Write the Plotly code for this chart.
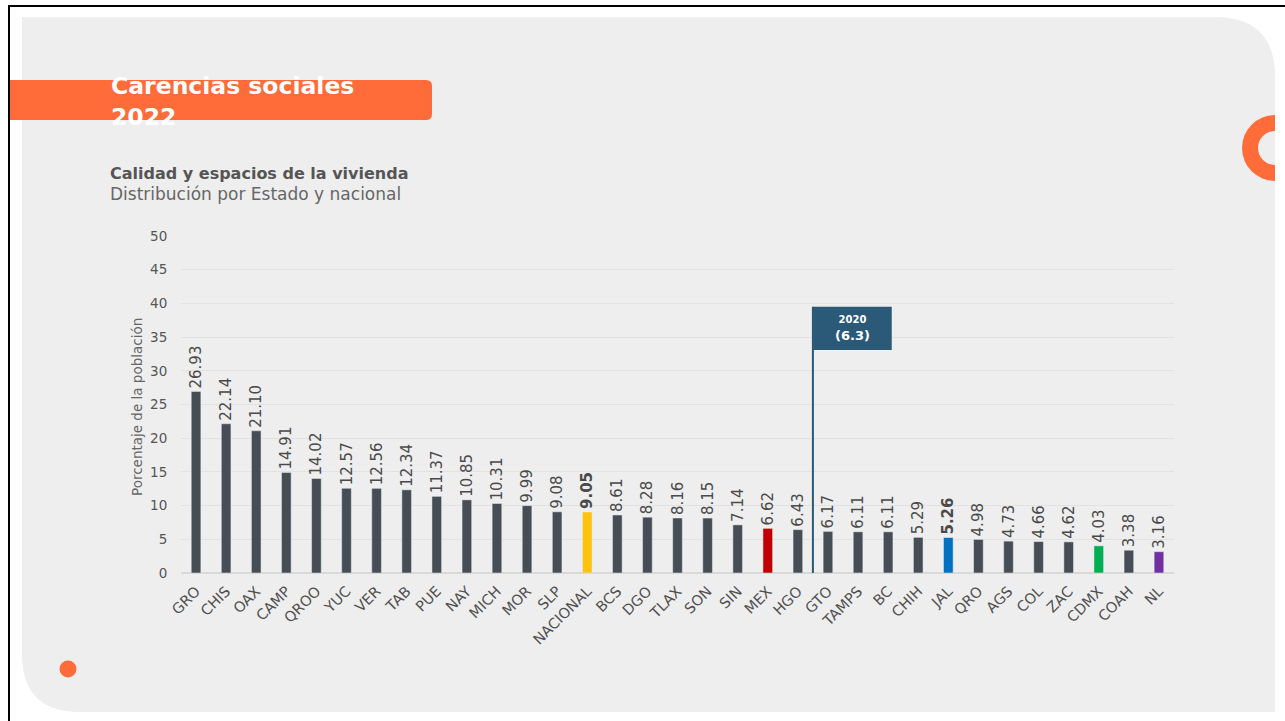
import plotly.graph_objects as go

# Data
estados = ["GRO", "CHIS", "OAX", "CAMP", "QROO", "YUC", "VER", "TAB", "PUE", "NAY",
           "MICH", "MOR", "SLP", "NACIONAL", "BCS", "DGO", "TLAX", "SON", "SIN", "MEX",
           "HGO", "GTO", "TAMPS", "BC", "CHIH", "JAL", "QRO", "AGS", "COL", "ZAC",
           "CDMX", "COAH", "NL"]
porcentaje = [26.93, 22.14, 21.10, 14.91, 14.02, 12.57, 12.56, 12.34, 11.37, 10.85,
              10.31, 9.99, 9.08, 9.05, 8.61, 8.28, 8.16, 8.15, 7.14, 6.62,
              6.43, 6.17, 6.11, 6.11, 5.29, 5.26, 4.98, 4.73, 4.66, 4.62,
              4.03, 3.38, 3.16]
resaltados = {"NACIONAL": "#ffc20e", "MEX": "#c00000", "JAL": "#0070c0",
              "CDMX": "#00b050", "NL": "#7030a0"}
en_negrita = ["NACIONAL", "JAL"]
valor_2020 = 6.3

W, H = 1285, 721
ORANGE = "#ff6b39"
PANEL = "#eeeeee"
NAVY = "#2b5a78"
FONT = "DejaVu Sans"


def px(x):
    return x / W


def py(y):
    return 1 - y / H


def path(points):
    return " ".join(points)


colores = [resaltados.get(e, "#464d54") for e in estados]
textos = [f"<b>{v:.2f}</b>" if e in en_negrita else f"{v:.2f}"
          for e, v in zip(estados, porcentaje)]

fig = go.Figure()
fig.add_trace(go.Bar(
    x=estados, y=porcentaje, marker_color=colores, width=0.32,
    text=textos, textposition="outside", textangle=-90,
    textfont=dict(size=15, color="#4a4a4a", family=FONT),
    constraintext="none", cliponaxis=False, hoverinfo="x+y",
))

# position of the 2020 reference line between the categories it falls between
idx = next(i for i, v in enumerate(porcentaje) if v < valor_2020)
hi, lo = porcentaje[idx - 1], porcentaje[idx]
x_ref = idx - 1 + (hi - valor_2020) / (hi - lo)

shapes = []
# grey card with rounded corners
r1, r2 = 60, 58
shapes.append(dict(
    type="path", xref="paper", yref="paper", layer="below",
    fillcolor=PANEL, line=dict(width=0),
    path=path([
        f"M {px(22)},{py(17)}", f"L {px(1275 - r1)},{py(17)}",
        f"Q {px(1275)},{py(17)} {px(1275)},{py(17 + r1)}",
        f"L {px(1275)},{py(712)}", f"L {px(22 + r2)},{py(712)}",
        f"Q {px(22)},{py(712)} {px(22)},{py(712 - r2)}", "Z"]),
))
# orange banner
shapes.append(dict(
    type="path", xref="paper", yref="paper", layer="below",
    fillcolor=ORANGE, line=dict(width=0),
    path=path([
        f"M {px(10)},{py(80)}", f"L {px(426)},{py(80)}",
        f"Q {px(432)},{py(80)} {px(432)},{py(86)}",
        f"L {px(432)},{py(114)}", f"Q {px(432)},{py(120)} {px(426)},{py(120)}",
        f"L {px(10)},{py(120)}", "Z"]),
))
# orange ring on the right edge (half hidden)
shapes.append(dict(type="circle", xref="paper", yref="paper", layer="below",
                   x0=px(1275 - 33), x1=px(1275 + 33), y0=py(148 + 33), y1=py(148 - 33),
                   fillcolor=ORANGE, line=dict(width=0)))
shapes.append(dict(type="circle", xref="paper", yref="paper", layer="below",
                   x0=px(1275 - 17), x1=px(1275 + 17), y0=py(148 + 17), y1=py(148 - 17),
                   fillcolor=PANEL, line=dict(width=0)))
shapes.append(dict(type="rect", xref="paper", yref="paper", layer="below",
                   x0=px(1275), x1=px(1290), y0=py(80), y1=py(200),
                   fillcolor="white", line=dict(width=0)))
# orange dot bottom-left
shapes.append(dict(type="circle", xref="paper", yref="paper", layer="below",
                   x0=px(59.5), x1=px(76.5), y0=py(677.5), y1=py(660.5),
                   fillcolor=ORANGE, line=dict(width=0)))
# black frame top and left
shapes.append(dict(type="line", xref="paper", yref="paper", x0=px(8), x1=px(1290),
                   y0=py(6), y1=py(6), line=dict(color="black", width=2)))
shapes.append(dict(type="line", xref="paper", yref="paper", x0=px(9), x1=px(9),
                   y0=py(5), y1=py(725), line=dict(color="black", width=2)))
# 2020 reference marker
shapes.append(dict(type="line", xref="x", yref="y", x0=x_ref, x1=x_ref, y0=0, y1=39.5,
                   line=dict(color=NAVY, width=2)))
shapes.append(dict(type="rect", xref="x", yref="y", x0=x_ref, x1=x_ref + 2.62,
                   y0=33.1, y1=39.5, fillcolor=NAVY, line=dict(width=0)))

annotations = [
    dict(xref="paper", yref="paper", x=px(109), y=py(70), xanchor="left", yanchor="top",
         text="<b>Carencias sociales<br>2022</b>", showarrow=False, align="left",
         font=dict(family=FONT, size=23.5, color="white")),
    dict(xref="paper", yref="paper", x=px(108), y=py(173), xanchor="left", yanchor="middle",
         text="<b>Calidad y espacios de la vivienda</b>", showarrow=False,
         font=dict(family=FONT, size=16, color="#555555")),
    dict(xref="paper", yref="paper", x=px(108), y=py(194), xanchor="left", yanchor="middle",
         text="Distribución por Estado y nacional", showarrow=False,
         font=dict(family=FONT, size=17, color="#666666")),
    dict(xref="paper", yref="paper", x=px(137), y=py(407), xanchor="center", yanchor="middle",
         text="Porcentaje de la población", showarrow=False, textangle=-90,
         font=dict(family=FONT, size=13.5, color="#666666")),
    dict(xref="x", yref="y", x=x_ref + 1.31, y=36.3, showarrow=False,
         text="<b><span style='font-size:10px'>2020</span><br>(%.1f)</b>" % valor_2020,
         font=dict(family=FONT, size=13, color="white")),
]

fig.update_layout(
    width=W, height=H, margin=dict(l=0, r=0, t=0, b=0, autoexpand=False),
    paper_bgcolor="white", plot_bgcolor="rgba(0,0,0,0)",
    showlegend=False, bargap=0.68,
    shapes=shapes, annotations=annotations,
    font=dict(family=FONT, color="#555555"),
    xaxis=dict(domain=[px(181), px(1174)], tickangle=-45, showgrid=False,
               tickfont=dict(size=14.5, color="#505050", family=FONT),
               ticks="", ticklabelstandoff=6, fixedrange=True, automargin=False),
    yaxis=dict(domain=[py(573), py(236)], range=[0, 50], dtick=5,
               gridcolor="#e2e2e2", zeroline=True, zerolinecolor="#d9d9d9",
               ticks="outside", ticklen=10, tickcolor="rgba(0,0,0,0)",
               tickfont=dict(size=13.5, color="#555555"),
               fixedrange=True, automargin=False),
)

reset = """
[document.documentElement, document.body].forEach(function (el) {
    el.style.margin = '0'; el.style.padding = '0'; el.style.overflow = 'hidden';
});
"""

fig.write_html("out.html", config={"displayModeBar": False}, post_script=reset)
